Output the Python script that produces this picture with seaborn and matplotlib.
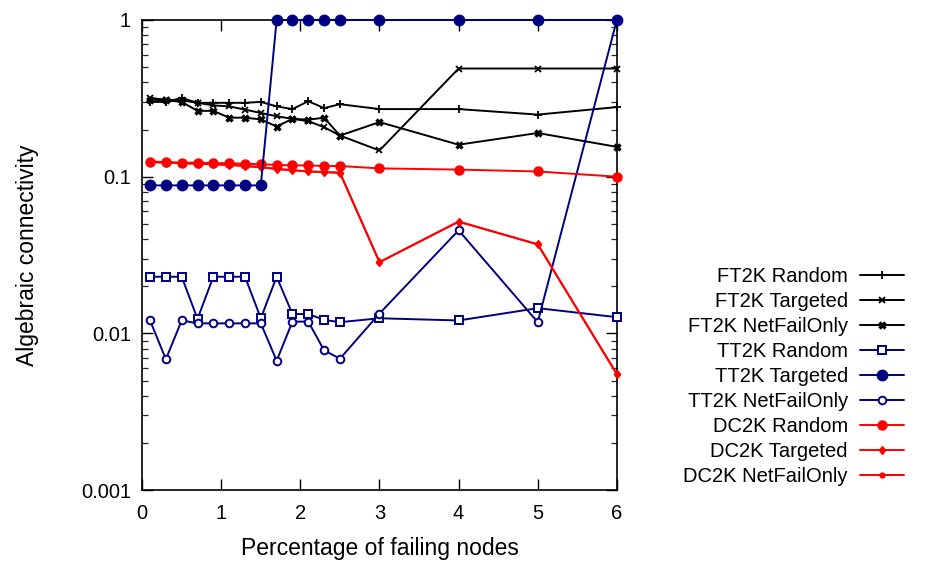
import matplotlib
matplotlib.use("Agg")
import matplotlib.pyplot as plt
import matplotlib.ticker as mticker
import numpy as np
import pandas as pd
import seaborn as sns

# Percentage of failing nodes (x positions of the measurements)
pct = [0.1, 0.3, 0.5, 0.7, 0.9, 1.1, 1.3, 1.5, 1.7, 1.9, 2.1, 2.3, 2.5, 3, 4, 5, 6]

# Algebraic connectivity per topology / failure mode
ft2k_random = [0.300, 0.300, 0.318, 0.296, 0.296, 0.296, 0.296, 0.300, 0.281, 0.270,
               0.303, 0.274, 0.290, 0.270, 0.270, 0.249, 0.278]
ft2k_targeted = [0.318, 0.310, 0.307, 0.296, 0.285, 0.281, 0.268, 0.255, 0.243, 0.234,
                 0.226, 0.207, 0.183, 0.147, 0.490, 0.490, 0.490]
ft2k_netfail = [0.310, 0.307, 0.300, 0.263, 0.263, 0.238, 0.238, 0.232, 0.209, 0.234,
                0.231, 0.238, 0.183, 0.223, 0.160, 0.190, 0.155]
tt2k_random = [0.023, 0.023, 0.023, 0.0124, 0.023, 0.023, 0.023, 0.0125, 0.023, 0.0133,
               0.0133, 0.0122, 0.0118, 0.0125, 0.0121, 0.0145, 0.0127]
tt2k_targeted = [0.088, 0.088, 0.088, 0.088, 0.088, 0.088, 0.088, 0.088, 1.0, 1.0,
                 1.0, 1.0, 1.0, 1.0, 1.0, 1.0, 1.0]
tt2k_netfail = [0.0121, 0.00685, 0.0121, 0.0116, 0.0116, 0.0116, 0.0116, 0.0116, 0.0067, 0.0119,
                0.0119, 0.0078, 0.0069, 0.0134, 0.0455, 0.0118, 1.0]
dc2k_random = [0.125, 0.124, 0.123, 0.123, 0.122, 0.122, 0.121, 0.120, 0.119, 0.118,
               0.118, 0.117, 0.117, 0.113, 0.111, 0.108, 0.100]
dc2k_targeted = [0.124, 0.123, 0.122, 0.121, 0.120, 0.119, 0.117, 0.115, 0.112, 0.110,
                 0.108, 0.107, 0.106, 0.0285, 0.0517, 0.037, 0.0055]
dc2k_netfail = [0.124, 0.123, 0.122, 0.121, 0.120, 0.119, 0.117, 0.115, 0.112, 0.110,
                0.108, 0.107, 0.106, 0.0285, 0.0517, 0.037, 0.0055]

series_names = ["FT2K Random", "FT2K Targeted", "FT2K NetFailOnly",
                "TT2K Random", "TT2K Targeted", "TT2K NetFailOnly",
                "DC2K Random", "DC2K Targeted", "DC2K NetFailOnly"]
series_values = [ft2k_random, ft2k_targeted, ft2k_netfail,
                 tt2k_random, tt2k_targeted, tt2k_netfail,
                 dc2k_random, dc2k_targeted, dc2k_netfail]

y_ticks = [0.001, 0.01, 0.1, 1]
y_tick_labels = ["0.001", "0.01", "0.1", "1"]
x_ticks = [0, 1, 2, 3, 4, 5, 6]

df = pd.DataFrame({
    "pct": np.tile(pct, len(series_names)),
    "value": np.concatenate(series_values),
    "series": np.repeat(series_names, len(pct)),
})

black = "#000000"
navy = "#000080"
red = "#ff0000"
styles = {
    "FT2K Random":      dict(color=black, marker="+", ms=6, mew=1.3, mfc=black, z=3),
    "FT2K Targeted":    dict(color=black, marker="x", ms=5, mew=1.3, mfc=black, z=3),
    "FT2K NetFailOnly": dict(color=black, marker="x", ms=5, mew=2.4, mfc=black, z=3),
    "TT2K Random":      dict(color=navy, marker="s", ms=5.5, mew=1.4, mfc="white", z=3),
    "TT2K Targeted":    dict(color=navy, marker="o", ms=7.5, mew=1.0, mfc=navy, z=4),
    "TT2K NetFailOnly": dict(color=navy, marker="o", ms=5.5, mew=1.4, mfc="white", z=3),
    "DC2K Random":      dict(color=red, marker="o", ms=6.5, mew=1.0, mfc=red, z=3),
    "DC2K Targeted":    dict(color=red, marker="d", ms=4.5, mew=1.0, mfc=red, z=3),
    "DC2K NetFailOnly": dict(color=red, marker="o", ms=3.5, mew=1.0, mfc=red, z=3),
}

sns.set_style("ticks")
plt.rcParams["font.family"] = ["Liberation Sans", "DejaVu Sans"]
plt.rcParams["text.color"] = "black"
plt.rcParams["axes.labelcolor"] = "black"

fig = plt.figure(figsize=(9.29, 5.70), dpi=100)
ax = fig.add_axes([0.153, 0.14, 0.511, 0.825])

for name in series_names:
    st = styles[name]
    sub = df[df["series"] == name]
    sns.lineplot(data=sub, x="pct", y="value", ax=ax, color=st["color"],
                 marker=st["marker"], markersize=st["ms"], markeredgewidth=st["mew"],
                 markerfacecolor=st["mfc"], markeredgecolor=st["color"],
                 linewidth=1.4, label=name, legend=False, clip_on=False, zorder=st["z"])

ax.set_yscale("log")
ax.set_xlim(0, 6)
ax.set_ylim(0.001, 1)
ax.set_xticks(x_ticks)
ax.set_xticklabels([str(t) for t in x_ticks])
ax.yaxis.set_major_locator(mticker.FixedLocator(y_ticks))
ax.yaxis.set_major_formatter(mticker.FixedFormatter(y_tick_labels))
ax.yaxis.set_minor_locator(mticker.LogLocator(base=10, subs=np.arange(2, 10)))
ax.yaxis.set_minor_formatter(mticker.NullFormatter())

ax.tick_params(axis="both", which="major", direction="in", length=8, width=1,
               top=True, right=True, labelsize=14.5, colors="black")
ax.tick_params(axis="x", which="major", pad=10)
ax.tick_params(axis="y", which="major", pad=8)
ax.tick_params(axis="y", which="minor", direction="in", length=4.5, width=0.9,
               left=True, right=True)
for sp in ax.spines.values():
    sp.set_linewidth(1.2)
    sp.set_color("black")

ax.set_xlabel("Percentage of failing nodes", fontsize=16.5, labelpad=10)
ax.set_ylabel("Algebraic connectivity", fontsize=16.5, labelpad=30)

handles, labels = ax.get_legend_handles_labels()
fig.legend(handles, labels, loc="center right", bbox_to_anchor=(0.982, 0.339),
           frameon=False, markerfirst=False, fontsize=14.5, handlelength=2.2,
           handletextpad=0.6, labelspacing=0.3, borderaxespad=0)

fig.savefig("out.png", dpi=100)
